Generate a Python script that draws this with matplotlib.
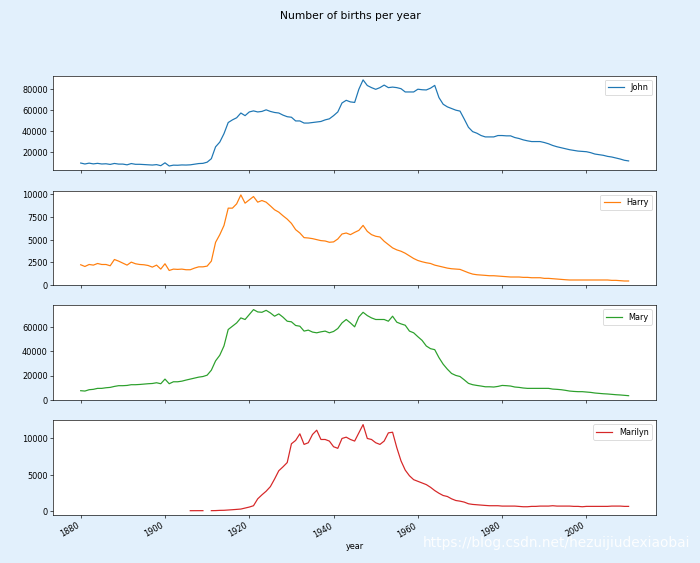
import numpy as np
import matplotlib
matplotlib.use("Agg")
import matplotlib.pyplot as plt

years = list(range(1880, 2011))

john = [9700, 8800, 9600, 8900, 9400, 8800, 9000, 8400, 9300, 8700,
        8700, 8000, 9200, 8500, 8500, 8300, 8200, 7800, 8200, 7200,
        9900, 6900, 7700, 7600, 7900, 7800, 8000, 8600, 9200, 9400,
        10500, 13800, 25000, 29500, 37500, 48000, 50500, 52500, 57000, 54500,
        58000, 59000, 58000, 58500, 60000, 58500, 57500, 57000, 55000, 53500,
        53000, 49500, 49500, 47500, 47500, 48000, 48500, 49000, 50500, 51500,
        54500, 58000, 66500, 69000, 67500, 67000, 79500, 88300, 83000, 81000,
        79400, 81000, 83400, 81000, 81500, 81000, 80000, 76900, 76900, 76900,
        79500, 79000, 78800, 80500, 83100, 71600, 65300, 62800, 61300, 59700,
        58800, 51300, 43500, 39400, 37900, 35700, 34400, 34400, 34400, 35700,
        35700, 35400, 35400, 33800, 32900, 31600, 30700, 30000, 30000, 30000,
        29100, 27900, 26300, 25100, 24200, 23200, 22300, 21700, 21000, 20700,
        20400, 19500, 18200, 17600, 17000, 16000, 15400, 14500, 13500, 12300, 11700]

harry = [2230, 2040, 2260, 2190, 2370, 2260, 2260, 2120, 2810, 2630,
         2410, 2190, 2520, 2340, 2260, 2230, 2150, 1970, 2190, 1750,
         2340, 1600, 1750, 1720, 1750, 1680, 1680, 1860, 2000, 2000,
         2080, 2630, 4700, 5550, 6570, 8470, 8470, 8940, 9930, 9020,
         9380, 9750, 9130, 9310, 9130, 8720, 8290, 8030, 7630, 7260,
         6790, 6100, 5730, 5220, 5180, 5110, 5000, 4890, 4850, 4710,
         4750, 5070, 5620, 5730, 5550, 5800, 6020, 6570, 5910, 5550,
         5370, 5290, 4820, 4450, 4090, 3870, 3720, 3500, 3210, 2920,
         2700, 2560, 2450, 2370, 2190, 2080, 1970, 1860, 1790, 1750,
         1720, 1530, 1350, 1200, 1130, 1100, 1060, 1020, 1020, 990,
         950, 910, 880, 880, 880, 840, 840, 800, 800, 800,
         730, 730, 690, 660, 620, 580, 550, 550, 550, 550,
         550, 550, 550, 550, 550, 550, 510, 510, 470, 440, 440]

mary = [7590, 7300, 8400, 8700, 9500, 9500, 10000, 10300, 11100, 11700,
        11700, 11900, 12500, 12500, 12700, 13000, 13300, 13500, 14100, 13300,
        17100, 13300, 14900, 14900, 15400, 16300, 17100, 17900, 18700, 19200,
        20300, 24400, 32000, 36600, 44200, 57700, 60400, 63100, 67200, 65900,
        69900, 74000, 72100, 71800, 73400, 71300, 68600, 70500, 67800, 64500,
        64000, 61000, 60400, 56400, 57200, 55600, 55000, 55800, 56400, 55000,
        56100, 58500, 63100, 65900, 63100, 59900, 68000, 71800, 69100, 67200,
        65900, 65900, 65900, 64500, 68600, 63700, 62300, 61200, 56400, 55000,
        51800, 48800, 44200, 42000, 41200, 34700, 29300, 25200, 21700, 20100,
        19200, 16500, 13600, 12500, 11900, 11400, 10800, 10800, 10600, 11100,
        11900, 11700, 11400, 10600, 10300, 9800, 9500, 9500, 9500, 9500,
        9500, 9500, 8900, 8700, 8400, 7900, 7300, 7000, 6800, 6800,
        6500, 6200, 5700, 5400, 5100, 4900, 4600, 4300, 4100, 3800, 3500]

nan = float("nan")
marilyn = [nan] * 26 + [45, 50, 55, 50, nan,
           50, 60, 90, 100, 135, 180, 230, 270, 410,
           545, 730, 1680, 2230, 2730, 3360, 4410, 5550, 6090, 6680,
           9270, 9730, 10640, 9180, 9410, 10550, 11140, 9860, 9860, 9640,
           8860, 8640, 10000, 10180, 9860, 9640, 10770, 11910, 10000, 9860,
           9410, 9180, 9640, 10770, 10860, 8730, 6910, 5640, 4860, 4320,
           4090, 3860, 3640, 3270, 2820, 2450, 2140, 2000, 1680, 1450,
           1360, 1230, 1000, 910, 860, 820, 770, 730, 730, 730,
           680, 680, 680, 680, 640, 590, 590, 640, 640, 680,
           680, 680, 730, 680, 680, 680, 680, 640, 640, 590,
           640, 640, 640, 640, 640, 640, 680, 680, 680, 640, 640]

names = ["John", "Harry", "Mary", "Marilyn"]
series = [john, harry, mary, marilyn]
colors = ["#1f77b4", "#ff7f0e", "#2ca02c", "#d62728"]
xticks = [1880, 1900, 1920, 1940, 1960, 1980, 2000]

W, H = 700, 563.4
dpi = 700 / 12
fig = plt.figure(figsize=(W / dpi, H / dpi), dpi=dpi, facecolor="#e2f0fc")

left = 53.3 / W
width = (656 - 53.3) / W
tops = [76, 191, 305.7, 420.7]
hgt = 94.7
axes = []
for i, (nm, vals, c) in enumerate(zip(names, series, colors)):
    bottom = 1 - (tops[i] + hgt) / H
    ax = fig.add_axes([left, bottom, width, hgt / H], sharex=axes[0] if axes else None)
    ax.set_facecolor("white")
    ax.plot(years, vals, color=c, label=nm, linewidth=1.5)
    ax.legend(loc="upper right")
    ax.set_xticks(xticks)
    ax.margins(x=0.05, y=0.05)
    if i < 3:
        ax.tick_params(labelbottom=False)
    axes.append(ax)

axes[3].set_xticklabels([str(t) for t in xticks], rotation=30, ha="right")
axes[3].set_xlabel("year")

fig.text(0.5, 1 - 16 / H, "Number of births per year", ha="center", va="center", fontsize=13.3)
fig.text(690 / W, 1 - 543 / H, "https://blog.csdn.net/hezuijiudexiaobai",
         ha="right", va="center", color="white", fontsize=17, alpha=0.9)

fig.savefig("out.png", dpi=dpi, facecolor=fig.get_facecolor())
